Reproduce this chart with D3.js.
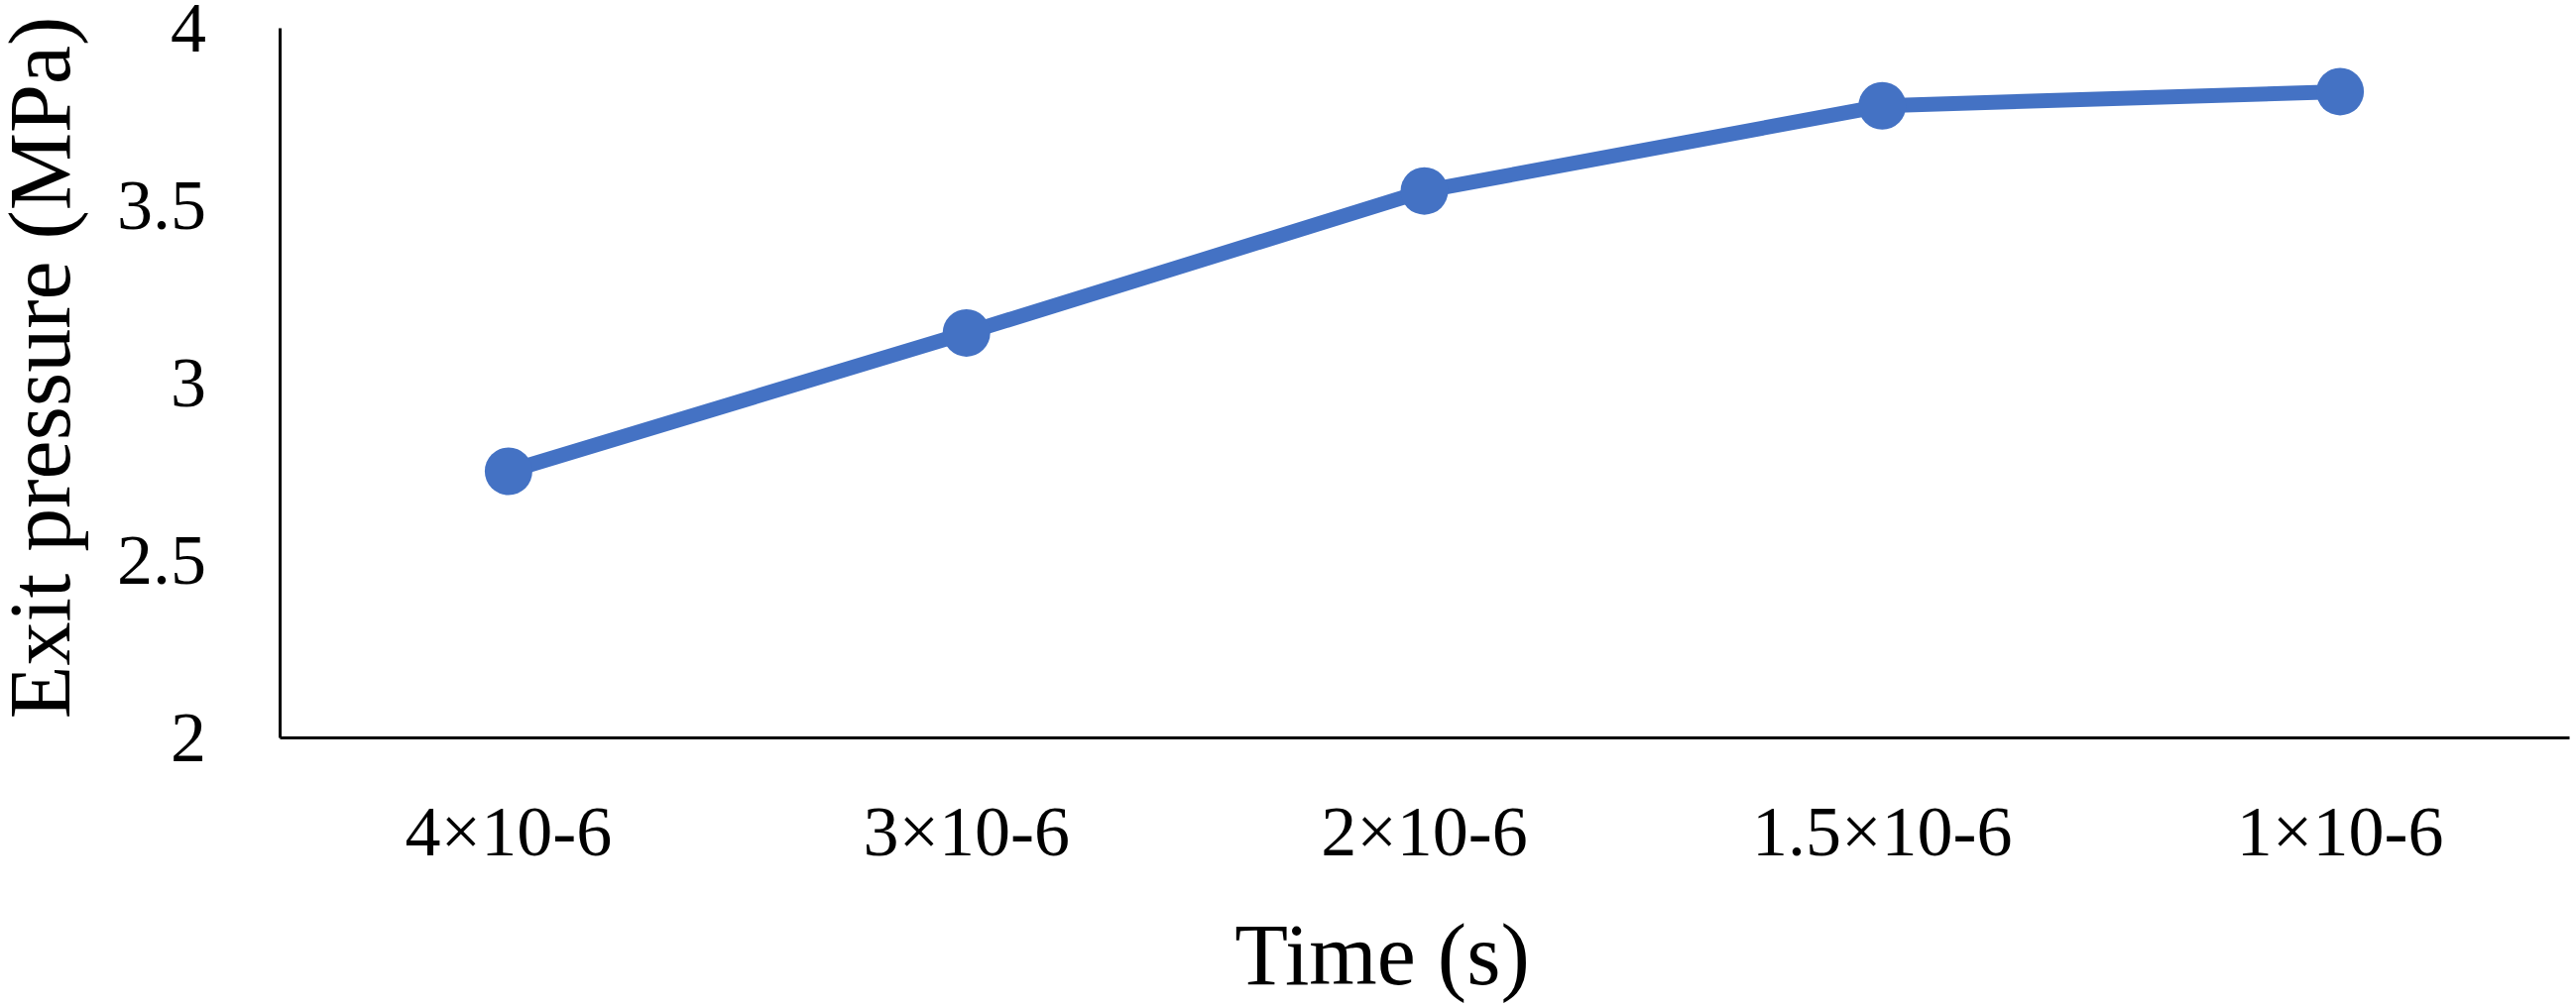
<!DOCTYPE html>
<html>
<head>
<meta charset="utf-8">
<script src="https://cdn.jsdelivr.net/npm/d3@7"></script>
<style>
  html, body { margin: 0; padding: 0; background: #fff; overflow: hidden; }
  svg { display: block; }
</style>
</head>
<body>
<div class="chart"></div>
<script>
// data
const timeLabels = ["4×10-6", "3×10-6", "2×10-6", "1.5×10-6", "1×10-6"];
const exitPressure = [2.75, 3.14, 3.54, 3.78, 3.82];
const yTicks = [2, 2.5, 3, 3.5, 4];

const width = 2598;
const height = 1016;
const margin = {top: 28, right: 7, bottom: 272, left: 282};
const innerWidth = width - margin.left - margin.right;
const innerHeight = height - margin.top - margin.bottom;
const serif = '"Liberation Serif", "Times New Roman", serif';

const data = timeLabels.map((t, i) => ({time: t, value: exitPressure[i]}));

const svg = d3.select(".chart")
  .append("svg")
    .attr("width", width)
    .attr("height", height)
    .attr("viewBox", `0 0 ${width} ${height}`)
  .append("g")
    .attr("transform", `translate(${margin.left}, ${margin.top})`);

// scales
const x = d3.scaleBand()
  .domain(timeLabels)
  .range([0, innerWidth]);

const y = d3.scaleLinear()
  .domain([2, 4])
  .range([innerHeight, 0]);

// x axis
svg.append("g")
  .attr("transform", `translate(0, ${innerHeight})`)
  .call(d3.axisBottom(x).tickSize(0).tickPadding(68))
  .attr("font-family", serif)
  .attr("font-size", 72)
  .call(g => g.select(".domain").attr("stroke-width", 3));

// y axis
svg.append("g")
  .call(d3.axisLeft(y).tickValues(yTicks).tickSize(0).tickPadding(74).tickFormat(d3.format("")))
  .attr("font-family", serif)
  .attr("font-size", 72)
  .call(g => g.select(".domain").attr("stroke-width", 3));

// axis titles
svg.append("text")
  .attr("font-family", serif)
  .attr("font-size", 88)
  .attr("text-anchor", "middle")
  .attr("transform", `translate(${70 - margin.left}, ${371 - margin.top}) rotate(-90)`)
  .text("Exit pressure (MPa)");

svg.append("text")
  .attr("font-family", serif)
  .attr("font-size", 88)
  .attr("text-anchor", "middle")
  .attr("x", 1394 - margin.left)
  .attr("y", 993 - margin.top)
  .text("Time (s)");

// line
const line = d3.line()
  .x(d => x(d.time) + x.bandwidth() / 2)
  .y(d => y(d.value));

svg.append("path")
  .datum(data)
  .attr("fill", "none")
  .attr("stroke", "#4472C4")
  .attr("stroke-width", 15)
  .attr("stroke-linejoin", "round")
  .attr("d", line);

// markers
svg.selectAll("circle")
  .data(data)
  .enter()
  .append("circle")
    .attr("cx", d => x(d.time) + x.bandwidth() / 2)
    .attr("cy", d => y(d.value))
    .attr("r", 24)
    .attr("fill", "#4472C4");
</script>
</body>
</html>
